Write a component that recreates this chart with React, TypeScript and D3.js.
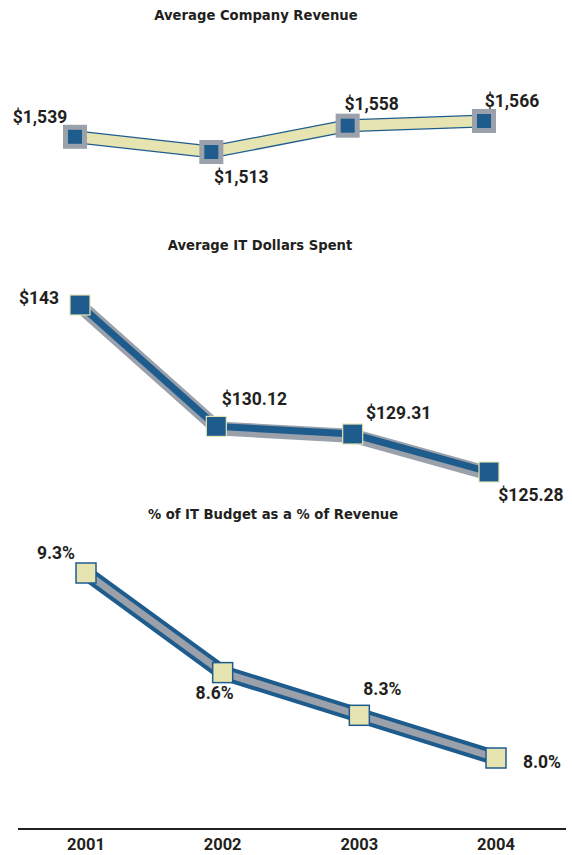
import React from "react";
import * as d3 from "d3";

const years = ["2001", "2002", "2003", "2004"];
const revenue = [1539, 1513, 1558, 1566];
const revenueLabels = ["$1,539", "$1,513", "$1,558", "$1,566"];
const itDollars = [143, 130.12, 129.31, 125.28];
const itDollarLabels = ["$143", "$130.12", "$129.31", "$125.28"];
const itPct = [9.3, 8.6, 8.3, 8.0];
const itPctLabels = ["9.3%", "8.6%", "8.3%", "8.0%"];
const titles = ["Average Company Revenue", "Average IT Dollars Spent", "% of IT Budget as a % of Revenue"];

const BLUE = "#1f5c8e";
const GRAY = "#9ba1aa";
const CREAM = "#e6e5b2";
const INK = "#231f20";

// label offsets relative to the marker (layout, not data)
const off1 = [[-35, -20], [30, 25], [24, -22], [28, -20]];
const off2 = [[-41, -7], [38, -27], [46, -21], [42, 23]];
const off3 = [[-30, -20], [-8, 20], [23, -26], [46, 4]];

export default function App() {
  const W = 572, H = 855;
  const x1 = d3.scalePoint<string>().domain(years).range([75, 484]);
  const x2 = d3.scalePoint<string>().domain(years).range([80, 489]);
  const x3 = d3.scalePoint<string>().domain(years).range([86, 496]);
  const y1 = d3.scaleLinear().domain([1513, 1566]).range([152, 121]);
  const y2 = d3.scaleLinear().domain([125.28, 143]).range([472, 305]);
  const y3 = d3.scaleLinear().domain([8.0, 9.3]).range([758, 573]);

  const l1 = d3.line<number>().x((_, i) => x1(years[i])!).y((d) => y1(d));
  const l2 = d3.line<number>().x((_, i) => x2(years[i])!).y((d) => y2(d));
  const l3 = d3.line<number>().x((_, i) => x3(years[i])!).y((d) => y3(d));

  const titleStyle: React.CSSProperties = {
    fontFamily: "'DejaVu Sans', sans-serif",
    fontWeight: 700,
    fontSize: 13.2,
    fill: INK,
  };
  const labStyle: React.CSSProperties = {
    fontFamily: "Roboto, 'Liberation Sans', sans-serif",
    fontWeight: 700,
    fontSize: 17.5,
    fill: INK,
  };

  return (
    <svg width={W} height={H} style={{ position: "absolute", left: 0, top: 0, background: "#fff" }}>
      {/* Panel 1 */}
      <text x={256} y={20} textAnchor="middle" style={titleStyle}>{titles[0]}</text>
      <path d={l1(revenue)!} fill="none" stroke={BLUE} strokeWidth={13} strokeLinejoin="miter" />
      <path d={l1(revenue)!} fill="none" stroke={CREAM} strokeWidth={10.5} strokeLinejoin="miter" />
      {revenue.map((v, i) => (
        <g key={"m1" + i}>
          <rect x={x1(years[i])! - 12} y={y1(v) - 12} width={24} height={24} fill={GRAY} />
          <rect x={x1(years[i])! - 7} y={y1(v) - 7} width={14} height={14} fill={BLUE} />
          <text x={x1(years[i])! + off1[i][0]} y={y1(v) + off1[i][1]} textAnchor="middle" dominantBaseline="central" style={labStyle}>{revenueLabels[i]}</text>
        </g>
      ))}

      {/* Panel 2 */}
      <text x={260} y={250} textAnchor="middle" style={titleStyle}>{titles[1]}</text>
      <g transform="translate(1.5,2)">
        <path d={l2(itDollars)!} fill="none" stroke={GRAY} strokeWidth={14} />
      </g>
      <path d={l2(itDollars)!} fill="none" stroke={BLUE} strokeWidth={7} />
      {itDollars.map((v, i) => (
        <g key={"m2" + i}>
          <rect x={x2(years[i])! - 10} y={y2(v) - 10} width={20} height={20} fill={BLUE} stroke={CREAM} strokeWidth={1.2} />
          <text x={x2(years[i])! + off2[i][0]} y={y2(v) + off2[i][1]} textAnchor="middle" dominantBaseline="central" style={labStyle}>{itDollarLabels[i]}</text>
        </g>
      ))}

      {/* Panel 3 */}
      <text x={273} y={519} textAnchor="middle" style={titleStyle}>{titles[2]}</text>
      <path d={l3(itPct)!} fill="none" stroke={BLUE} strokeWidth={15} />
      <path d={l3(itPct)!} fill="none" stroke={GRAY} strokeWidth={7} />
      {itPct.map((v, i) => (
        <g key={"m3" + i}>
          <rect x={x3(years[i])! - 10} y={y3(v) - 10} width={20} height={20} fill={CREAM} stroke={BLUE} strokeWidth={1.5} />
          <text x={x3(years[i])! + off3[i][0]} y={y3(v) + off3[i][1]} textAnchor="middle" dominantBaseline="central" style={labStyle}>{itPctLabels[i]}</text>
        </g>
      ))}

      {/* Axis */}
      <line x1={18} x2={566} y1={829} y2={829} stroke={INK} strokeWidth={2} />
      {years.map((yr) => (
        <text key={yr} x={x3(yr)!} y={844} textAnchor="middle" dominantBaseline="central" style={{ ...labStyle, fontSize: 16.5 }}>{yr}</text>
      ))}
    </svg>
  );
}
